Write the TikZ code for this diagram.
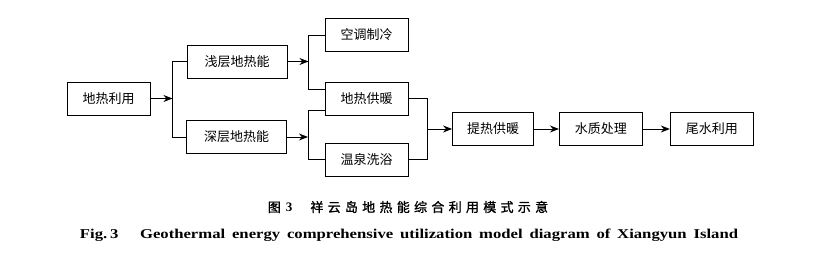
\documentclass[tikz,border=0pt]{standalone}
\usepackage{fontspec}
\setmainfont{Liberation Serif}
\newfontfamily\cjk{Noto Sans CJK SC}
\newfontfamily\cjkhei[FakeBold=1.2,LetterSpace=33]{Noto Sans CJK SC}
\usetikzlibrary{arrows.meta, positioning, calc}

\begin{document}
\begin{tikzpicture}[x=1pt, y=1pt, >={Stealth[length=9pt, width=7pt]}, line width=0.9pt,
    box/.style={draw, minimum width=83pt, minimum height=33pt, inner sep=0pt, font=\cjk\fontsize{13}{13}\selectfont},
    widebox/.style={box, minimum width=100pt}]
    \useasboundingbox (0,0) rectangle (830,267);

    % Nguồn: địa nhiệt và hai loại tài nguyên
    \node[box] (util) at (108.5,168.5) {地热利用};
    \node[widebox] (shallow) at (237,205.5) {浅层地热能};
    \node[widebox] (deep) at (236.5,130) {深层地热能};

    % Các hình thức sử dụng
    \node[box] (cool) at (366.5,232) {空调制冷};
    \node[box] (heat) at (366.5,168.5) {地热供暖};
    \node[box] (spa) at (366.5,107.5) {温泉洗浴};

    % Chuỗi xử lý phía sau
    \node[box, minimum width=81pt] (ext) at (493,138) {提热供暖};
    \node[box, right=25pt of ext] (water) {水质处理};
    \node[box, right=27pt of water] (tail) {尾水利用};

    % Điểm rẽ nhánh
    \coordinate (split) at ($(util.east)+(22,0)$);
    \coordinate (bus1) at ($(shallow.east)+(21,0)$);
    \coordinate (bus2) at ($(deep.east)+(21,0)$);
    \coordinate (merge) at ($(ext.west)+(-25,0)$);

    \draw[->] (util.east) -- (split);
    \draw (shallow.west) -| (split) |- (deep.west);
    \draw[->] (shallow.east) -- (bus1);
    \draw (cool.west) -| (bus1) |- ([yshift=9.5pt]heat.west);
    \draw[->] (deep.east) -- (bus2);
    \draw ([yshift=-11.5pt]heat.west) -| (bus2) |- (spa.west);
    \draw (heat.east) -| (merge) |- (spa.east);
    \draw[->] (merge) -- (ext.west);
    \draw[->] (ext) -- (water);
    \draw[->] (water) -- (tail);

    % Chú thích hình
    \node[font=\cjkhei\fontsize{13}{13}\selectfont] (capcn) at (408,60)
        {图\hspace{5pt}{\rmfamily\bfseries 3}\hspace{18pt}祥云岛地热能综合利用模式示意};
    \node[font=\bfseries\fontsize{13.5}{13.5}\selectfont] (capen) at (409,32)
        {\resizebox{658pt}{\height}{\spaceskip=5.5pt Fig.\,3\hspace{12pt} Geothermal energy comprehensive utilization model diagram of Xiangyun Island}};
\end{tikzpicture}
\end{document}
